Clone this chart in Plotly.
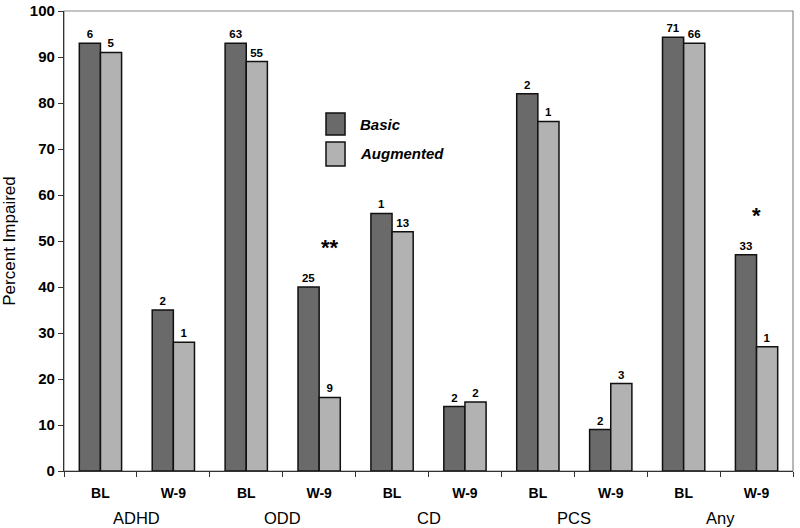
import plotly.graph_objects as go

categories = ["BL", "W-9", "BL", "W-9", "BL", "W-9", "BL", "W-9", "BL", "W-9"]
groups = ["ADHD", "ODD", "CD", "PCS", "Any"]
basic = [93, 35, 93, 40, 56, 14, 82, 9, 94.3, 47]
augmented = [91, 28, 89, 16, 52, 15, 76, 19, 93, 27]
basic_n = ["6", "2", "63", "25", "1", "2", "2", "2", "71", "33"]
augmented_n = ["5", "1", "55", "9", "13", "2", "1", "3", "66", "1"]
y_ticks = list(range(0, 101, 10))
series_names = ["Basic", "Augmented"]
series_colors = ["#6a6a6a", "#b2b2b2"]

FONT = "Liberation Sans, Arial, sans-serif"
xs = list(range(len(categories)))

fig = go.Figure()
for name, vals, labels, col in zip(series_names, [basic, augmented],
                                   [basic_n, augmented_n], series_colors):
    fig.add_trace(go.Bar(
        x=xs, y=vals, name=name, text=labels, textposition="outside",
        textfont=dict(size=11.5, color="black", family=FONT, weight="bold"),
        marker=dict(color=col, line=dict(color="#111111", width=1.5)),
        cliponaxis=False, showlegend=False,
    ))

fig.update_layout(
    width=800, height=528,
    margin=dict(l=64, r=7, t=11, b=57),
    paper_bgcolor="white", plot_bgcolor="white",
    barmode="group", bargap=0.42, bargroupgap=0,
    font=dict(family=FONT, color="black"),
    showlegend=False,
)

fig.update_xaxes(
    range=[-0.5, 9.5], tickmode="array", tickvals=xs, ticktext=categories,
    tickfont=dict(size=14, family=FONT, weight="bold"),
    ticks="", showline=True, linecolor="#333333", linewidth=1.2,
    showgrid=False, zeroline=False, automargin=False,
    minor=dict(tickmode="array", tickvals=[i - 0.5 for i in range(11)],
               ticks="outside", ticklen=5, tickcolor="#333333", tickwidth=1),
    ticklabelstandoff=9,
)
fig.update_yaxes(
    range=[0, 100], tickmode="array", tickvals=y_ticks,
    tickfont=dict(size=15, family=FONT, weight="bold"),
    ticks="outside", ticklen=5, tickcolor="#333333",
    showline=True, linecolor="#333333", linewidth=1.2,
    showgrid=False, zeroline=False, automargin=False,
    title=dict(text="Percent Impaired", font=dict(size=17, family=FONT), standoff=10),
)

# plot border (top and right)
fig.add_shape(type="rect", xref="paper", yref="paper", x0=0, y0=0, x1=1, y1=1,
              line=dict(color="#8a8a8a", width=1.2), layer="below")

# group labels
for i, g in enumerate(groups):
    fig.add_annotation(x=2 * i + 0.5, y=0, xref="x", yref="paper", yshift=-47,
                       text=g, showarrow=False, yanchor="middle",
                       font=dict(size=16.5, family=FONT, color="black"))

# legend (drawn in paper coordinates)
legend_boxes = [(0.7304, 0.7783, 0.7543), (0.663, 0.715, 0.6913)]
for (y0, y1, yc), name, col in zip(legend_boxes, series_names, series_colors):
    fig.add_shape(type="rect", xref="paper", yref="paper",
                  x0=0.3594, x1=0.3855, y0=y0, y1=y1,
                  fillcolor=col, line=dict(color="#111111", width=1.5))
    fig.add_annotation(x=0.4033, y=yc, xref="paper", yref="paper", text=name,
                       showarrow=False, xanchor="left", yanchor="middle",
                       font=dict(size=15, family=FONT, weight="bold",
                                 style="italic", color="black"))

# significance markers
fig.add_annotation(x=3.15, y=48.5, xref="x", yref="y", text="**", showarrow=False,
                   font=dict(size=22, family=FONT, weight="bold", color="black"))
fig.add_annotation(x=9.0, y=55.5, xref="x", yref="y", text="*", showarrow=False,
                   font=dict(size=22, family=FONT, weight="bold", color="black"))

fig.write_html("out.html", config={"displayModeBar": False},
               post_script="document.body.style.margin='0';")
